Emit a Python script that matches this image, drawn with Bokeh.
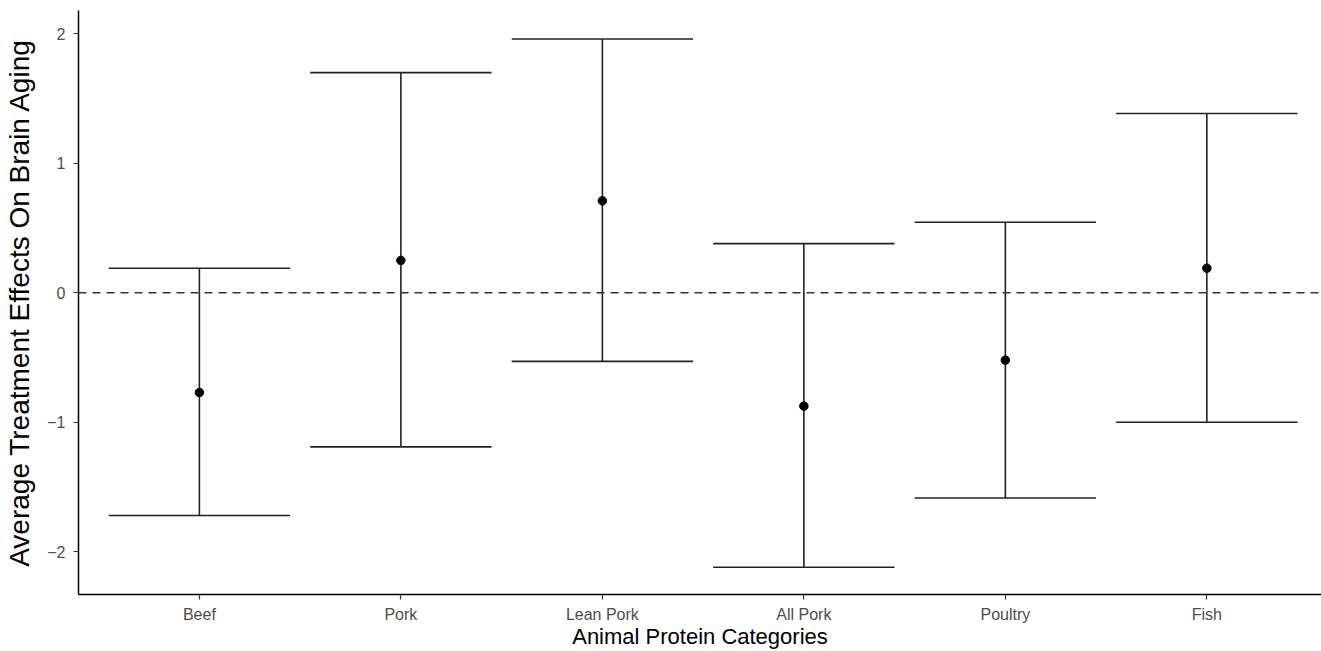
from bokeh.plotting import figure
from bokeh.models import Range1d, FixedTicker, Span, ColumnDataSource
from bokeh.embed import file_html
from bokeh.resources import INLINE

# Average treatment effect estimates with confidence bounds per protein group
categories = ["Beef", "Pork", "Lean Pork", "All Pork", "Poultry", "Fish"]
estimate = [-0.77, 0.25, 0.71, -0.875, -0.52, 0.19]
lower = [-1.72, -1.19, -0.53, -2.12, -1.585, -1.00]
upper = [0.19, 1.70, 1.96, 0.38, 0.545, 1.385]
y_ticks = [-2, -1, 0, 1, 2]

positions = list(range(1, len(categories) + 1))
cap_half = 0.45

src = ColumnDataSource(dict(
    x=positions,
    x_left=[x - cap_half for x in positions],
    x_right=[x + cap_half for x in positions],
    est=estimate,
    lo=lower,
    hi=upper,
))

p = figure(
    width=1321, height=651,
    x_range=Range1d(0.4, 6.569),
    y_range=Range1d(-2.33, 2.18),
    output_backend="svg",
    toolbar_location=None,
    min_border_left=78, min_border_right=0,
    min_border_top=10, min_border_bottom=55,
)
p.outline_line_color = None
p.xgrid.visible = False
p.ygrid.visible = False
p.background_fill_color = "white"

# reference line at zero effect
p.add_layout(Span(location=0, dimension="width", line_color="#333333",
                  line_width=1.5, line_dash="8 6"))

# error bars: vertical stems and horizontal caps
p.segment(x0="x", y0="lo", x1="x", y1="hi", source=src,
          line_color="#222222", line_width=1.6)
p.segment(x0="x_left", y0="hi", x1="x_right", y1="hi", source=src,
          line_color="#222222", line_width=1.6)
p.segment(x0="x_left", y0="lo", x1="x_right", y1="lo", source=src,
          line_color="#222222", line_width=1.6)

# point estimates
p.scatter(x="x", y="est", source=src, size=8.5, fill_color="black",
          line_color="black")

font = "Liberation Sans"

p.xaxis.ticker = FixedTicker(ticks=positions)
p.xaxis.major_label_overrides = {pos: name for pos, name in zip(positions, categories)}
p.yaxis.ticker = FixedTicker(ticks=y_ticks)

for ax in (p.xaxis, p.yaxis):
    ax.axis_line_color = "black"
    ax.axis_line_width = 1.5
    ax.major_tick_line_color = "#333333"
    ax.major_tick_line_width = 1.2
    ax.major_tick_out = 5
    ax.major_tick_in = 0
    ax.minor_tick_line_color = None
    ax.major_label_text_font = font
    ax.major_label_text_color = "#4D4D4D"
    ax.axis_label_text_font = font
    ax.axis_label_text_font_style = "normal"
    ax.axis_label_text_color = "black"

p.xaxis.major_label_text_font_size = "16px"
p.yaxis.major_label_text_font_size = "16px"
p.xaxis.major_label_standoff = 6
p.yaxis.major_label_standoff = 8
p.xaxis.axis_label = "Animal Protein Categories"
p.yaxis.axis_label = "Average Treatment Effects On Brain Aging"
p.xaxis.axis_label_text_font_size = "22px"
p.yaxis.axis_label_text_font_size = "28px"
p.xaxis.axis_label_standoff = -2
p.yaxis.axis_label_standoff = 9

open("out.html", "w").write(file_html(p, INLINE))
